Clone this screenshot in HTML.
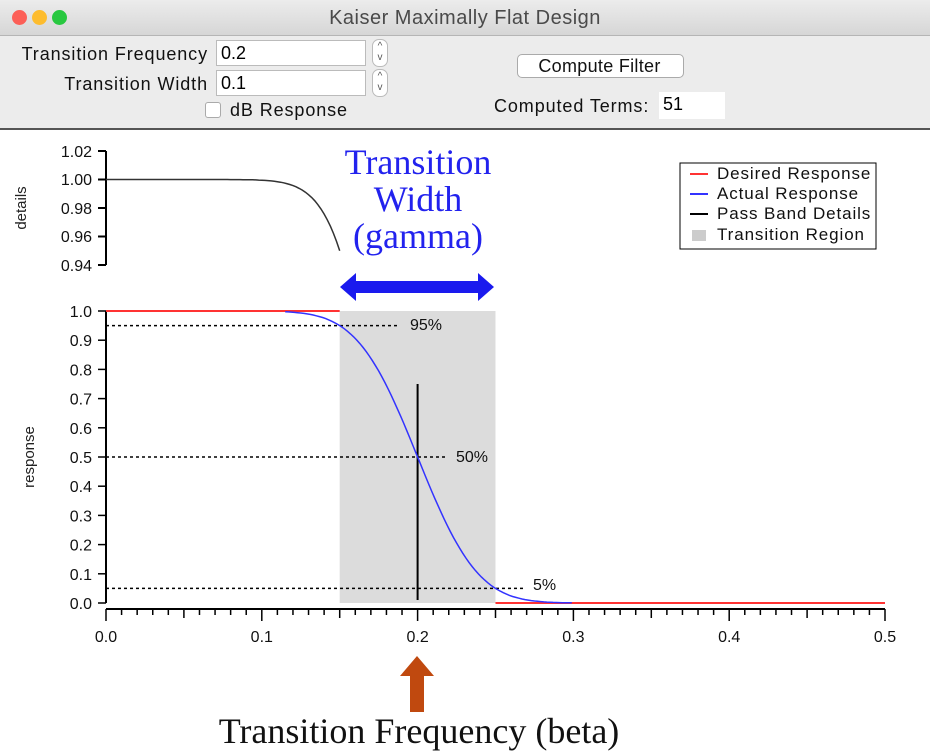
<!DOCTYPE html>
<html><head><meta charset="utf-8"><style>
body{margin:0;width:930px;height:753px;overflow:hidden;background:#fff;font-family:"Liberation Sans",sans-serif;position:relative}
.tb{position:absolute;left:0;top:0;width:930px;height:35px;background:linear-gradient(#ececec,#d6d6d6);border-bottom:1px solid #b5b5b5}
.dot{position:absolute;top:10px;width:15px;height:15px;border-radius:50%}
.ctl{position:absolute;left:0;top:36px;width:930px;height:92px;background:#ececec;border-bottom:2px solid #555}
.t{position:absolute;font-size:18px;letter-spacing:0.9px;color:#111;white-space:nowrap}
.in{position:absolute;background:#fff;border:1px solid #bbb;font-size:18px;padding-left:4px;box-sizing:border-box;line-height:24px}
.st{position:absolute;font-size:10px;color:#555;text-align:center;width:14px;line-height:11px}
</style></head><body>
<div class="tb">
<div class="dot" style="left:12px;background:#fc5f57"></div>
<div class="dot" style="left:32px;background:#fdbc2e"></div>
<div class="dot" style="left:52px;background:#28c840"></div>
<div class="t" style="left:0;width:930px;text-align:center;top:7px;color:#4a4a4a;font-size:20px;letter-spacing:0.5px">Kaiser Maximally Flat Design</div>
</div>
<div class="ctl">
<div class="t" style="right:722px;top:8px">Transition Frequency</div>
<div class="in" style="left:216px;top:4px;width:150px;height:26px">0.2</div>
<div class="t" style="right:722px;top:38px">Transition Width</div>
<div class="in" style="left:216px;top:34px;width:150px;height:26px">0.1</div>
<div style="position:absolute;left:372px;top:3px;width:14px;height:26px;border:1px solid #bbb;border-radius:7px;background:#fff"></div>
<div class="st" style="left:373px;top:5px">^<br>v</div>
<div style="position:absolute;left:372px;top:33px;width:14px;height:26px;border:1px solid #bbb;border-radius:7px;background:#fff"></div>
<div class="st" style="left:373px;top:35px">^<br>v</div>
<div style="position:absolute;left:205px;top:66px;width:14px;height:14px;border:1px solid #aaa;border-radius:3px;background:#fff"></div>
<div class="t" style="left:230px;top:64px">dB Response</div>
<div style="position:absolute;left:517px;top:18px;width:165px;height:22px;border:1px solid #aaa;border-radius:5px;background:#fff"></div>
<div class="t" style="left:517px;top:20px;width:165px;text-align:center;letter-spacing:0.3px">Compute Filter</div>
<div class="t" style="left:494px;top:60px">Computed Terms:</div>
<div class="in" style="left:659px;top:56px;width:66px;height:27px;border:none">51</div>
</div>
<svg id="s" width="930" height="753" style="position:absolute;left:0;top:0" font-family="Liberation Sans, sans-serif" font-size="16">
<rect x="339.7" y="311" width="155.8" height="292" fill="#dcdcdc"/>
<g stroke="#000" stroke-width="2" fill="none">
<path d="M106 151V265M98 151H106M98 179.5H106M98 208H106M98 236.5H106M98 265H106"/>
<path d="M106 311V603"/>
<path d="M106 609H885"/>
</g>
<g id="g" stroke="#000" stroke-width="1.5"></g>
<g font-size="16" text-anchor="end" fill="#111">
<text x="92" y="157">1.02</text><text x="92" y="185">1.00</text><text x="92" y="214">0.98</text><text x="92" y="242">0.96</text><text x="92" y="271">0.94</text>
</g>
<g id="yl" font-size="16" text-anchor="end" fill="#111"></g>
<g id="xl" font-size="16" text-anchor="middle" fill="#111"></g>
<text transform="translate(26,208) rotate(-90)" text-anchor="middle" font-size="15" fill="#222">details</text>
<text transform="translate(34,457) rotate(-90)" text-anchor="middle" font-size="15" fill="#222">response</text>
<line x1="106" y1="311" x2="339.7" y2="311" stroke="#f33" stroke-width="2"/>
<line x1="495.5" y1="603" x2="885" y2="603" stroke="#f33" stroke-width="2"/>
<g stroke="#000" stroke-width="1.5" stroke-dasharray="3,3">
<line x1="106" y1="325.6" x2="398" y2="325.6"/>
<line x1="106" y1="457" x2="446" y2="457"/>
<line x1="106" y1="588.4" x2="526" y2="588.4"/>
</g>
<text x="410" y="330" fill="#111">95%</text>
<text x="456" y="462" fill="#111">50%</text>
<text x="533" y="590" fill="#111">5%</text>
<line x1="417.6" y1="384" x2="417.6" y2="600" stroke="#000" stroke-width="2"/>
<path id="bc" fill="none" stroke="#33f" stroke-width="1.5"/>
<path id="tc" fill="none" stroke="#333" stroke-width="1.5"/>
<rect x="680" y="163" width="196" height="86" fill="#fff" stroke="#000" stroke-width="1"/>
<g font-size="17" fill="#111" letter-spacing="0.9">
<line x1="690" y1="174" x2="708" y2="174" stroke="#f33" stroke-width="2"/><text x="717" y="179">Desired Response</text>
<line x1="690" y1="194" x2="708" y2="194" stroke="#33f" stroke-width="2"/><text x="717" y="199">Actual Response</text>
<line x1="690" y1="214" x2="708" y2="214" stroke="#000" stroke-width="2"/><text x="717" y="219">Pass Band Details</text>
<rect x="692" y="230" width="14" height="11" fill="#ccc"/><text x="717" y="240">Transition Region</text>
</g>
<g font-family="Liberation Serif, serif" font-size="36" fill="#2222ee" text-anchor="middle">
<text x="418" y="174">Transition</text><text x="418" y="211">Width</text><text x="418" y="248">(gamma)</text>
</g>
<path d="M340 287L356 273V281H478V273L494 287L478 301V293H356V301Z" fill="#1a1aee"/>
<path d="M417 656L434 676H424V712H410V676H400Z" fill="#c0490f"/>
<text x="419" y="743" font-family="Liberation Serif, serif" font-size="36" fill="#111" text-anchor="middle">Transition Frequency (beta)</text>
</svg>
<script>
function erfc(x){var z=Math.abs(x),t=1/(1+0.5*z);var r=t*Math.exp(-z*z-1.26551223+t*(1.00002368+t*(0.37409196+t*(0.09678418+t*(-0.18628806+t*(0.27886807+t*(-1.13520398+t*(1.48851587+t*(-0.82215223+t*0.17087277)))))))));return x>=0?r:2-r;}
function R(f){return 0.5*erfc((f-0.2)/0.043);}
var X=f=>106+f*1558,Yb=v=>603-v*292,Yt=v=>179.5+(1-v)/0.02*28.5;
var d='',d2='';
for(var f=0.115;f<=0.3001;f+=0.002){d+=(d?'L':'M')+X(f).toFixed(1)+' '+Yb(R(f)).toFixed(1);}
document.getElementById('bc').setAttribute('d',d);
for(var f=0;f<=0.1501;f+=0.002){d2+=(d2?'L':'M')+X(f).toFixed(1)+' '+Math.min(258,Yt(R(f))).toFixed(1);}
document.getElementById('tc').setAttribute('d',d2);
var g=document.getElementById('g'),s='';
for(var i=0;i<=10;i++){var y=Yb(i/10);s+='<line x1="98" y1="'+y+'" x2="106" y2="'+y+'"/>';}
for(var i=0;i<=50;i++){var x=X(i/100),L=(i%10==0)?12:(i%5==0?9:6);s+='<line x1="'+x+'" y1="609" x2="'+x+'" y2="'+(609+L)+'"/>';}
g.innerHTML=s;
var yl='';for(var i=0;i<=10;i++){yl+='<text x="92" y="'+(Yb(i/10)+6)+'">'+(i/10).toFixed(1)+'</text>';}
document.getElementById('yl').innerHTML=yl;
var xl='';for(var i=0;i<=5;i++){xl+='<text x="'+X(i/10)+'" y="642">'+(i/10).toFixed(1)+'</text>';}
document.getElementById('xl').innerHTML=xl;
</script>
</body></html>
